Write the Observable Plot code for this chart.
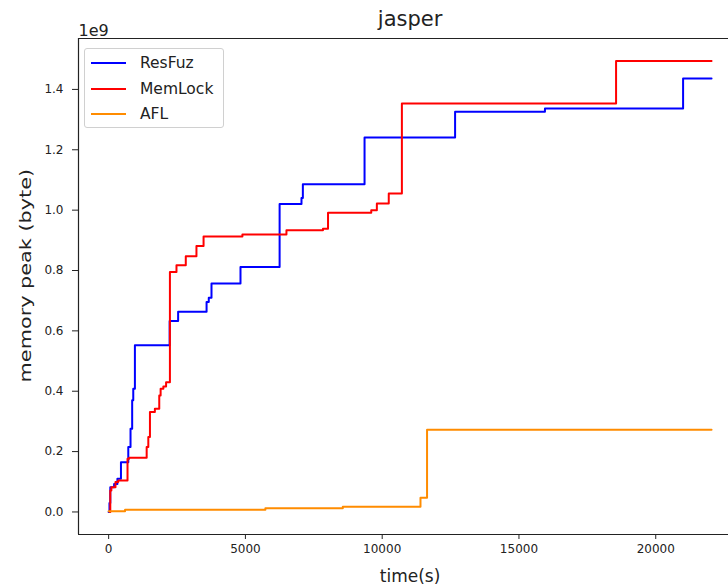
<!DOCTYPE html>
<html>
<head>
<meta charset="utf-8">
<script src="https://cdn.jsdelivr.net/npm/d3@7"></script>
<script src="https://cdn.jsdelivr.net/npm/@observablehq/plot@0.6"></script>
<style>
  html, body { margin: 0; padding: 0; background: #fff; overflow: hidden; }
  #wrap { position: relative; width: 728px; height: 587px; }
  svg { display: block; }
  .legend { position: absolute; left: 84px; top: 48px; width: 140px; height: 80px;
    border: 1px solid #d0d0d0; border-radius: 3px; background: rgba(255,255,255,0.85);
    font-family: "DejaVu Sans", sans-serif; font-size: 15.5px; color: #222; box-sizing: border-box; }
  .legend .row { position: absolute; left: 0; height: 20px; display: flex; align-items: center; }
  .legend .swatch { position: absolute; left: 6px; width: 35px; height: 2px; }
  .legend .lab { position: absolute; left: 55px; white-space: nowrap; line-height: 20px; top: 0; }
</style>
</head>
<body>
<div id="wrap"></div>
<script>
// ---- data (time in seconds, memory peak in units of 1e9 bytes) ----
const seriesNames = ["ResFuz", "MemLock", "AFL"];
const seriesColors = ["#0000ff", "#ff0000", "#ff8c00"];

const resfuzTime = [0, 30, 60, 200, 320, 450, 718, 800, 860, 900, 960, 2230, 2540, 3580, 3660, 3760, 4820, 6250, 7050, 7100, 9355, 12665, 15950, 21000, 22040];
const resfuzPeak = [0, 0.03, 0.082, 0.093, 0.11, 0.165, 0.215, 0.276, 0.37, 0.408, 0.552, 0.633, 0.663, 0.696, 0.71, 0.757, 0.812, 1.02, 1.04, 1.086, 1.241, 1.326, 1.337, 1.436, 1.436];

const memlockTime = [40, 60, 100, 250, 350, 690, 750, 1390, 1450, 1510, 1690, 1850, 1900, 2000, 2100, 2240, 2480, 2820, 3210, 3470, 4890, 6500, 7835, 8020, 9600, 9805, 10240, 10720, 18550, 22040];
const memlockPeak = [0, 0.071, 0.082, 0.099, 0.104, 0.176, 0.18, 0.215, 0.248, 0.331, 0.342, 0.386, 0.408, 0.416, 0.43, 0.795, 0.817, 0.847, 0.881, 0.913, 0.919, 0.933, 0.938, 0.991, 1.0, 1.022, 1.055, 1.353, 1.494, 1.494];

const aflTime = [0, 600, 5730, 8560, 11400, 11640, 22040];
const aflPeak = [0.002, 0.007, 0.012, 0.017, 0.047, 0.2725, 0.2725];

const xTicks = [0, 5000, 10000, 15000, 20000];
const yTicks = [0, 0.2, 0.4, 0.6, 0.8, 1.0, 1.2, 1.4];

const titleText = "jasper";
const xLabel = "time(s)";
const yLabel = "memory peak (byte)";
const offsetText = "1e9";

// ---- build table ----
const series = [
  [seriesNames[0], resfuzTime, resfuzPeak],
  [seriesNames[1], memlockTime, memlockPeak],
  [seriesNames[2], aflTime, aflPeak]
];
const rows = series.flatMap(([name, ts, vs]) => ts.map((t, i) => ({series: name, t, v: vs[i]})));

const xDomain = [-1102, 22660];
const yDomain = [-0.0747, 1.5687];
const xCenter = (-1102 + 23142) / 2;
const yLabelPos = (yDomain[0] + yDomain[1]) / 2 + 0.036;

const chart = Plot.plot({
  width: 728,
  height: 587,
  marginLeft: 78,
  marginRight: 0,
  marginTop: 38,
  marginBottom: 53,
  style: {fontFamily: "DejaVu Sans, sans-serif", fontSize: "12px", color: "#222", background: "#fff"},
  x: {domain: xDomain, label: null},
  y: {domain: yDomain, label: null},
  color: {domain: seriesNames, range: seriesColors},
  marks: [
    Plot.axisX({ticks: xTicks, tickFormat: d => String(d), tickSize: 5, tickPadding: 5, fontSize: 12, label: null}),
    Plot.axisY({ticks: yTicks, tickFormat: d => d.toFixed(1), tickSize: 6, tickPadding: 9, fontSize: 12, label: null}),
    Plot.line(rows, {x: "t", y: "v", z: "series", stroke: "series", curve: "step-after", strokeWidth: 2}),
    Plot.ruleX([xDomain[0]], {stroke: "#222", strokeWidth: 1.2}),
    Plot.ruleY(yDomain, {stroke: "#222", strokeWidth: 1.2}),
    Plot.text([titleText], {x: [xCenter], frameAnchor: "top", lineAnchor: "middle", dy: -19, fontSize: 21, fill: "#222"}),
    Plot.text([offsetText], {frameAnchor: "top-left", textAnchor: "start", lineAnchor: "bottom", dx: 0, dy: -3, fontSize: 16, fill: "#222"}),
    Plot.text([xLabel], {x: [xCenter], frameAnchor: "bottom", lineAnchor: "middle", dy: 42, fontSize: 17, fill: "#222"}),
    Plot.text([yLabel], {y: [yLabelPos], frameAnchor: "left", textAnchor: "middle", lineAnchor: "middle", dx: -53, rotate: -90, fontSize: 16, fill: "#222"})
  ]
});

// stretch the y-axis label along its length to match the reference proportions
chart.querySelectorAll("text").forEach(t => {
  if (t.textContent === yLabel) {
    const tr = t.getAttribute("transform") || "";
    t.setAttribute("transform", tr + " scale(1.3,1)");
  }
});

const wrap = document.getElementById("wrap");
wrap.appendChild(chart);

// legend (overlay, matplotlib-style)
const legend = document.createElement("div");
legend.className = "legend";
seriesNames.forEach((name, i) => {
  const row = document.createElement("div");
  row.className = "row";
  row.style.top = (4 + i * 25.5) + "px";
  row.style.width = "100%";
  const sw = document.createElement("div");
  sw.className = "swatch";
  sw.style.background = seriesColors[i];
  sw.style.top = "9px";
  const lab = document.createElement("div");
  lab.className = "lab";
  lab.textContent = name;
  row.appendChild(sw);
  row.appendChild(lab);
  legend.appendChild(row);
});
wrap.appendChild(legend);
</script>
</body>
</html>
